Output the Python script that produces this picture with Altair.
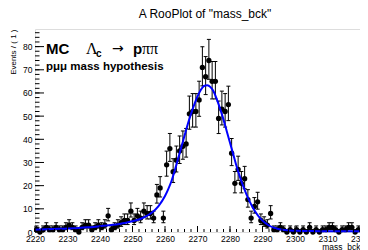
import math
import altair as alt
import pandas as pd

# ---- data ----
bin_low = 2220
counts = [1, 0, 1, 2, 1, 1, 2, 1, 1, 2,
          3, 2, 1, 0, 2, 3, 3, 1, 2, 3,
          2, 3, 7, 1, 2, 3, 4, 5, 5, 9,
          5, 7, 6, 9, 8, 8, 6, 16, 19, 6,
          29, 36, 26, 31, 35, 37, 38, 51, 52, 52,
          57, 71, 67, 74, 65, 65, 49, 53, 52, 55,
          34, 21, 27, 21, 23, 14, 6, 11, 13, 5,
          4, 3, 8, 1, 1, 2, 1, 0, 1, 0,
          1, 0, 1, 0, 2, 0, 1, 0, 1, 1,
          2, 2, 1, 0, 1, 1, 2, 2, 0, 1]

curve_mass = [2220, 2222, 2224, 2226, 2228, 2230, 2232, 2234, 2236, 2238,
              2240, 2242, 2244, 2246, 2248, 2250, 2252, 2254, 2256, 2258,
              2260, 2261, 2262, 2263, 2264, 2265, 2266, 2267, 2268, 2269,
              2270, 2271, 2272, 2273, 2274, 2275, 2276, 2277, 2278, 2279,
              2280, 2281, 2282, 2283, 2284, 2285, 2286, 2287, 2288, 2289,
              2290, 2292, 2294, 2296, 2298, 2300, 2305, 2310, 2315, 2320]
curve_val = [1.0, 1.1, 1.2, 1.3, 1.4, 1.5, 1.6, 1.8, 2.0, 2.2,
             2.5, 2.8, 3.1, 3.5, 4.0, 4.6, 5.4, 6.6, 8.4, 11.2,
             15.5, 18.5, 22.0, 26.5, 31.5, 36.5, 41.5, 46.5, 51.0, 55.0,
             58.5, 61.3, 63.0, 63.3, 62.5, 60.5, 57.0, 53.0, 48.5, 43.5,
             38.5, 33.5, 28.5, 24.0, 20.0, 16.5, 13.3, 10.6, 8.3, 6.4,
             4.9, 2.8, 1.6, 1.0, 0.7, 0.5, 0.4, 0.35, 0.3, 0.3]

x_major = [2220, 2230, 2240, 2250, 2260, 2270, 2280, 2290, 2300, 2310, 2320]
x_minor = list(range(2220, 2321, 2))
y_major = [0, 10, 20, 30, 40, 50, 60, 70, 80]
y_minor = list(range(0, 88, 2))

title_text = 'A RooPlot of "mass_bck"'
x_title = "mass_bck"
y_title = "Events / ( 1 )"

# ---- build tables ----
centers = [bin_low + 0.5 + i for i in range(len(counts))]
lo = [n + 0.5 - math.sqrt(n + 0.25) for n in counts]
hi = [n + 0.5 + math.sqrt(n + 0.25) for n in counts]
pts = pd.DataFrame({"m": centers, "n": counts, "lo": lo, "hi": hi})
curve = pd.DataFrame({"m": curve_mass, "v": curve_val})

W, H = 325, 203
FONT = "Liberation Sans"
xs = alt.Scale(domain=[2220, 2320], nice=False, zero=False)
ys = alt.Scale(domain=[0, 87.6], nice=False, zero=False)

x_axis = alt.Axis(values=x_major, format="d", ticks=False, domain=False, grid=False,
                  labelFlush=False, labelOverlap=False, labelBound=False,
                  labelFontSize=8.5, labelPadding=2, labelColor="black", labelFont=FONT,
                  title=x_title, titleAnchor="end", titleFontSize=8.5,
                  titleFontWeight="normal", titleFont=FONT, titleColor="black",
                  titleBaseline="top", titleY=10)
y_axis = alt.Axis(values=y_major, format="d", ticks=False, domain=False, grid=False,
                  labelFontSize=8.5, labelPadding=3, labelColor="black", labelFont=FONT,
                  title=y_title, titleAnchor="end", titleFontSize=8,
                  titleFontWeight="normal", titleFont=FONT, titleColor="black",
                  titleX=-18)

X = lambda f: alt.X(f, scale=xs, axis=x_axis)
Y = lambda f: alt.Y(f, scale=ys, axis=y_axis)

base = alt.Chart(pts)

bars = base.mark_rule(color="black", strokeWidth=1).encode(
    x=X("m:Q"), y=Y("lo:Q"), y2="hi:Q")
cap_lo = base.mark_tick(orient="horizontal", size=4, thickness=1, color="black", opacity=1).encode(
    x=X("m:Q"), y=Y("lo:Q"))
cap_hi = base.mark_tick(orient="horizontal", size=4, thickness=1, color="black", opacity=1).encode(
    x=X("m:Q"), y=Y("hi:Q"))
dots = base.mark_circle(size=28, color="black", opacity=1).encode(
    x=X("m:Q"), y=Y("n:Q"))

line = alt.Chart(curve).mark_line(color="#0000ff", strokeWidth=2, interpolate="monotone").encode(
    x=X("m:Q"), y=Y("v:Q"))

def xticks(vals, length):
    return alt.Chart(pd.DataFrame({"m": vals})).mark_rule(color="black", strokeWidth=1).encode(
        x=X("m:Q"), y=alt.value(H), y2=alt.value(H - length))

def yticks(vals, length):
    return alt.Chart(pd.DataFrame({"lo": vals})).mark_rule(color="black", strokeWidth=1).encode(
        y=Y("lo:Q"), x=alt.value(0), x2=alt.value(length))

def label(txt, x, y, size, weight="normal", font=FONT, align="left"):
    return alt.Chart(pd.DataFrame({"t": [txt]})).mark_text(
        align=align, baseline="alphabetic", fontSize=size, fontWeight=weight,
        font=font, color="black").encode(x=alt.value(x), y=alt.value(y), text="t:N")

texts = [
    label(title_text, 170, -11.5, 12, "normal", FONT, "center"),
    label("MC", 11, 25, 15, "bold"),
    label("Λ", 51, 25, 16, "normal", "Liberation Serif"),
    label("c", 61, 28, 10, "bold"),
    label("→", 77, 24, 14, "normal", "DejaVu Sans"),
    label("p", 98, 25, 15, "bold"),
    label("ππ", 107, 25, 16, "normal", "Liberation Serif"),
    label("pμμ mass hypothesis", 11, 41, 11.5, "bold"),
]

chart = alt.layer(
    bars, cap_lo, cap_hi, dots, line,
    xticks(x_minor, 3), xticks(x_major, 6),
    yticks(y_minor, 4.5), yticks(y_major, 9),
    *texts,
).properties(
    width=W, height=H,
    autosize=alt.AutoSizeParams(type="none"),
    padding={"left": 27, "top": 21, "right": 0, "bottom": 18},
).configure_view(stroke="black", strokeWidth=1).configure(background="white")

chart.save("out.html", embed_options={"renderer": "svg", "actions": False})
